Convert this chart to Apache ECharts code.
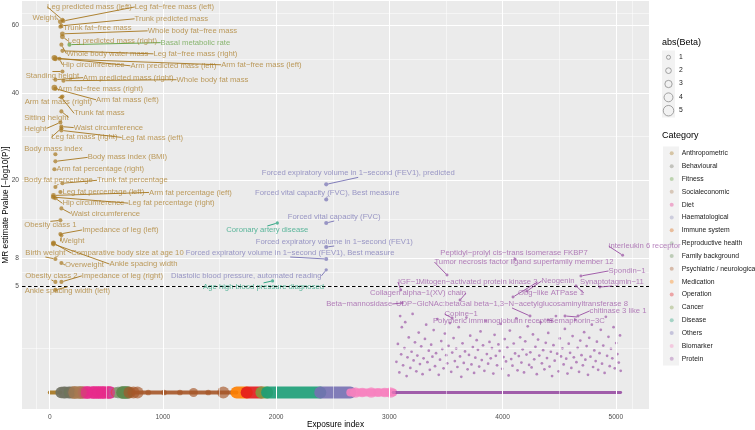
<!DOCTYPE html>
<html><head><meta charset="utf-8">
<script src="https://cdn.jsdelivr.net/npm/echarts@6/dist/echarts.min.js"></script>
<style>html,body{margin:0;padding:0;background:#fff}#c{width:755px;height:430px}</style>
</head><body><div id="c"></div>
<script>
// ---------------- DATA ----------------
const categories = ['Anthropometric','Behavioural','Fitness','Socialeconomic','Diet','Haematological','Immune system','Reproductive health','Family background','Psychiatric / neurological','Medication','Operation','Cancer','Disease','Others','Biomarker','Protein'];
const categoryColors = ['#A6761D','#6F7060','#5E9E3A','#A87A50','#E7298A','#8C8CB8','#D95F02','#7F9F7F','#5E8A4E','#A65628','#FF7F00','#E41A1C','#7E9A40','#1B9E77','#7570B3','#F781BF','#984EA3'];
const yTicks = [5, 8, 20, 40, 60];
const xTicks = [0, 1000, 2000, 3000, 4000, 5000];
const sizeBreaks = [1, 2, 3, 4, 5];

// dense bottom strip (exposures near -log10P = 0), one band per category
const bandStart = [0, 100, 165, 200, 300, 540, 580, 600, 640, 690, 1650, 1740, 1870, 1920, 2390, 2655, 3033];
const bandEnd   = [95, 195, 180, 295, 540, 580, 600, 640, 690, 1650, 1740, 1870, 1920, 2390, 2655, 3033, 5043];
const bandBeta  = [0.8, 5.5, 4, 6, 6, 4.5, 4.5, 5.5, 6, 0.8, 6, 6, 6, 6, 6, 3.5, 0.2];

// larger individual points along the strip
const dotCat  = [1,1,3,3,4,4,4,4,4,8,8,9,9,9,9,9,9,9,9,9,15,15,15,15,15,15];
const dotIdx  = [130,175,220,270,330,390,430,470,520,650,680,705,740,775,870,1010,1150,1270,1400,1533,2700,2760,2840,2900,2960,3010];
const dotBeta = [6,6,6.5,6.5,6.5,6.5,6.5,6.5,6.5,6.5,6.5,6,6,6,2,2,2,4,2,6,5,4.5,5,4,4.5,5];

// protein associations scattered just above the strip
const proteinIdx = [3062,3075,3088,3095,3104,3110,3121,3133,3140,3152,3160,3171,3185,3196,3205,3214,3226,3238,3247,3259,3270,3281,3293,3302,3314,3325,3336,3348,3357,3369,3380,3391,3403,3412,3424,3436,3447,3458,3467,3479,3490,3502,3511,3523,3535,3546,3555,3567,3578,3590,3601,3612,3624,3635,3646,3657,3668,3680,3691,3703,3714,3725,3737,3748,3759,3771,3782,3793,3805,3816,3827,3839,3850,3861,3872,3884,3895,3906,3918,3929,3940,3951,3963,3974,3985,3996,4008,4019,4030,4042,4053,4064,4076,4087,4098,4110,4121,4132,4143,4155,4166,4177,4189,4200,4211,4222,4234,4245,4256,4268,4279,4290,4302,4313,4324,4335,4347,4358,4369,4381,4392,4403,4415,4426,4437,4449,4460,4471,4482,4494,4505,4516,4528,4539,4550,4562,4573,4584,4596,4607,4618,4629,4641,4652,4663,4675,4686,4697,4709,4720,4731,4742,4754,4765,4776,4788,4799,4810,4822,4833,4844,4856,4867,4878,4889,4901,4912,4923,4935,4946,4957,4969,4980,4991,5003,5014,5026,5037,5043];
const proteinP = [0.42,1.05,0.18,2.6,0.65,1.9,0.33,0.88,2.2,0.12,0.55,1.35,0.27,0.74,2.75,0.46,1.12,0.2,0.61,1.6,0.36,0.95,0.15,0.52,1.28,2.05,0.41,0.78,0.23,1.02,0.57,1.74,0.31,0.69,2.4,0.14,0.48,1.18,0.84,0.26,1.55,0.62,0.38,0.97,2.15,0.19,0.71,1.32,0.44,0.86,0.29,1.9,0.58,0.11,1.08,0.39,0.75,2.5,0.24,0.63,1.44,0.35,0.92,0.17,0.54,1.22,0.81,0.3,1.66,0.47,0.99,0.21,2.3,0.66,0.37,1.14,0.52,0.88,0.16,1.48,0.6,0.33,1.03,0.77,2.1,0.25,0.56,1.27,0.43,0.9,0.13,1.71,0.5,0.32,1.07,0.68,2.45,0.22,0.59,1.36,0.4,0.83,0.18,1.17,0.64,1.95,0.34,0.72,0.28,1.5,0.49,0.93,0.15,1.25,0.61,2.2,0.38,0.8,0.24,1.1,0.53,1.58,0.3,0.74,0.12,1.0,0.45,2.6,0.67,0.2,1.3,0.58,0.87,0.35,1.8,0.51,0.16,1.06,0.7,0.27,1.42,0.55,2.35,0.41,0.89,0.19,1.2,0.62,0.33,1.62,0.48,0.96,0.14,1.33,0.57,2.05,0.29,0.79,0.44,1.15,0.23,0.69,1.75,0.37,0.98,0.17,2.55,0.6,1.38,0.31,0.85,0.52,1.9,0.26,1.09,0.66,0.4,1.45,0.21];
const proteinBeta = 0.15;

// labelled exposures
const labelNames = ['Leg predicted mass (left)','Leg fat−free mass (left)','Weight','Trunk predicted mass','Trunk fat−free mass','Whole body fat−free mass','Leg predicted mass (right)','Basal metabolic rate','Whole body water mass','Leg fat−free mass (right)','Hip circumference','Arm predicted mass (left)','Arm fat−free mass (left)','Standing height','Arm predicted mass (right)','Whole body fat mass','Arm fat−free mass (right)','Arm fat mass (left)','Arm fat mass (right)','Trunk fat mass','Sitting height','Height','Waist circumference','Leg fat mass (right)','Leg fat mass (left)','Body mass index','Body mass index (BMI)','Arm fat percentage (right)','Body fat percentage','Trunk fat percentage','Leg fat percentage (left)','Arm fat percentage (left)','Hip circumference','Leg fat percentage (right)','Waist circumference','Obesity class 1','Impedance of leg (left)','Weight','Comparative body size at age 10','Birth weight','Ankle spacing width','Overweight','Obesity class 2','Impedance of leg (right)','Ankle spacing width (left)',
'Forced expiratory volume in 1−second (FEV1), predicted','Forced vital capacity (FVC), Best measure','Forced vital capacity (FVC)','Coronary artery disease','Forced expiratory volume in 1−second (FEV1)','Forced expiratory volume in 1−second (FEV1), Best measure','Diastolic blood pressure, automated reading','Age high blood pressure diagnosed',
'Peptidyl−prolyl cis−trans isomerase FKBP7','interleukin 6 receptor','Tumor necrosis factor ligand superfamily member 12','Spondin−1','IGF−1','Mitogen−activated protein kinase 3','Neogenin','Synaptotagmin−11','Obg−like ATPase 1','Collagen alpha−1(XV) chain','Beta−mannosidase','UDP−GlcNAc:betaGal beta−1,3−N−acetylglucosaminyltransferase 8','chitinase 3 like 1','Copine−1','Polymeric immunoglobulin receptor','Semaphorin−3C'];
const labelCat = [0,0,0,0,0,0,0,2,0,0,0,0,0,0,0,0,0,0,0,0,0,0,0,0,0,0,0,0,0,0,0,0,0,0,0,0,0,0,0,0,0,0,0,0,0,
14,14,14,13,14,14,14,13,
16,16,16,16,16,16,16,16,16,16,16,16,16,16,16,16];
const labelIdx = [112,121,94,103,94,112,112,174,103,112,86,41,50,112,50,121,41,50,112,103,103,94,103,103,103,50,50,41,50,112,94,33,50,33,103,94,94,103,33,50,33,103,50,103,50,
2442,2442,2442,2010,2442,2442,2442,1968,
4110,5060,3509,4692,3100,4092,4216,4860,4648,3624,3113,4242,4666,3554,4401,4551];
const labelP = [61.9,61.5,61.2,59.9,59.6,57.3,56.4,53.9,53.9,52.0,49.6,49.9,49.6,45.9,43.6,43.3,41.4,41.1,39.0,38.8,35.2,32.5,31.5,31.1,30.6,25.3,23.8,22.2,18.8,19.5,17.9,17.3,16.8,17.0,15.1,13.2,11.2,11.0,9.95,7.94,9.82,7.47,5.45,5.45,4.69,
19.3,16.6,12.8,12.8,9.43,7.94,6.7,5.55,
7.9,8.4,6.15,6.05,4.68,4.06,4.59,4.96,5.05,3.81,3.57,2.61,2.61,2.47,2.34,2.61];
const labelBeta = [1,1,1.5,1,1,1.5,1.5,1,1,1,1,2,1.5,1,1,1,2,1,1,1,1,1,1,1,1,1,1,1,1,1,1,1.5,1,1.5,1,1,1,1,1.5,1,1.5,1,1,1,1,
1,1,1,0.5,1,1,0.5,0.5,
0.3,0.3,0.3,0.3,0.3,0.3,0.3,0.3,0.3,0.3,0.3,0.3,0.3,0.3,0.3,0.3];

// ---------------- LAYOUT / STYLE ----------------
// label text offsets from their point (pixels), as placed by the repel layout
const labelOffsets = [[27,-13],[111,-14],[-16,-4],[110,-7],[37,1],[130,-3],[50,4],[126,-2],[46,9],[133,3],[34,6],[119,8],[206,6],[-10,4],[73,-2],[149,-1],[46,1],[72,11],[-4,5],[38,16],[-15,6],[-25,6],[47,1],[23,9],[91,7],[-2,-5],[72,-4],[46,0],[3,-7],[70,-3],[43,0],[137,-3],[38,5],[118,6],[44,5],[-10,5],[60,-4],[11,6],[74,10],[-10,-6],[90,20],[23,2],[-4,-6],[61,-6],[12,1],
[32,-11],[1,-7],[8,-6],[-10,7],[8,-5],[-36,-6],[-80,6],[-9,6],
[-1,-6],[22,-9],[77,-13],[46,-5],[8,-8],[-35,-15],[31,-10],[12,-5],[-25,7],[-42,-7],[-43,1],[-18,-12],[40,-5],[9,-4],[-55,1],[12,5]];

const T = v => Math.sqrt(Math.max(v, 0));         // sqrt-transformed y scale
const sz = b => 2.5 + 1.6 * b;                      // abs(Beta) -> point diameter
function rgba(hex, a) { const n = parseInt(hex.slice(1), 16); return 'rgba(' + (n >> 16) + ',' + ((n >> 8) & 255) + ',' + (n & 255) + ',' + a + ')'; }
const FONT = '"Liberation Sans", Arial, sans-serif';

const X_MIN = -245, X_MAX = 5293, Y_MIN = -0.348, Y_MAX = 8.263;
const yMajor = yTicks.map(T);
const yAll = [Y_MIN].concat(yMajor, [Y_MAX]);
const yMinor = []; for (let i = 0; i < yAll.length - 1; i++) yMinor.push((yAll[i] + yAll[i + 1]) / 2);
const xAll = [X_MIN].concat(xTicks, [X_MAX]);
const xMinor = []; for (let i = 0; i < xAll.length - 1; i++) xMinor.push((xAll[i] + xAll[i + 1]) / 2);

const series = [];
// grid lines + threshold line
series.push({
  type: 'line', data: [], silent: true, z: 1,
  markLine: {
    silent: true, symbol: ['none', 'none'], label: { show: false }, animation: false,
    data: [].concat(
      yMinor.map(v => ({ yAxis: v, lineStyle: { color: '#fff', width: 0.5, type: 'solid' } })),
      xMinor.map(v => ({ xAxis: v, lineStyle: { color: '#fff', width: 0.5, type: 'solid' } })),
      yMajor.map(v => ({ yAxis: v, lineStyle: { color: '#fff', width: 1, type: 'solid' } })),
      xTicks.map(v => ({ xAxis: v, lineStyle: { color: '#fff', width: 1, type: 'solid' } }))
    )
  }
});
series.push({
  type: 'line', data: [], silent: true, z: 4,
  markLine: { silent: true, symbol: ['none', 'none'], label: { show: false }, animation: false,
    data: [{ yAxis: T(5), lineStyle: { color: '#000', width: 1.1, type: [3.5, 2.5] } }] }
});
// strip bands
categories.forEach((c, i) => {
  series.push({
    type: 'line', name: 'band' + i, silent: true, z: 2, symbol: 'none', animation: false,
    data: [[bandStart[i], T(0)], [bandEnd[i], T(0)]],
    lineStyle: { width: sz(bandBeta[i]), cap: 'round', color: categoryColors[i], opacity: 0.9 }
  });
});
// category point series
categories.forEach((c, i) => {
  const data = [];
  dotCat.forEach((k, j) => { if (k === i) data.push({ value: [dotIdx[j], T(0)], symbolSize: sz(dotBeta[j]) }); });
  if (i === 16) proteinIdx.forEach((x, j) => data.push({ value: [x, T(proteinP[j])], symbolSize: sz(proteinBeta) }));
  series.push({
    type: 'scatter', name: c, z: 3, animation: false, data: data,
    itemStyle: { color: categoryColors[i], opacity: 0.65, borderWidth: 0 }
  });
});
// labelled points
series.push({
  type: 'scatter', name: 'labelled', z: 5, animation: false,
  data: labelNames.map((n, j) => ({
    name: n, value: [labelIdx[j], T(labelP[j])], symbolSize: sz(labelBeta[j]),
    itemStyle: { color: categoryColors[labelCat[j]], opacity: 0.7 },
    label: { color: categoryColors[labelCat[j]] },
    labelLine: { lineStyle: { color: categoryColors[labelCat[j]] } }
  })),
  label: { show: true, position: 'inside', formatter: '{b}', fontSize: 7.7, fontFamily: FONT, align: 'center', verticalAlign: 'middle' },
  labelLine: { show: true, lineStyle: { width: 0.9 } },
  labelLayout: function (p) { const o = labelOffsets[p.dataIndex] || [0, 0]; return { dx: o[0], dy: o[1], hideOverlap: false, moveOverlap: null }; }
});

// legends drawn as graphics (titles, key backgrounds, size keys)
const graphics = [];
graphics.push({ type: 'text', left: 662, top: 38, style: { text: 'abs(Beta)', fontSize: 9, fontFamily: FONT, fill: '#000' } });
graphics.push({ type: 'rect', shape: { x: 662, y: 50.5, width: 13, height: 67 }, style: { fill: '#F2F2F2' } });
sizeBreaks.forEach((b, i) => {
  const cy = 57.3 + i * 13.35;
  graphics.push({ type: 'circle', shape: { cx: 668.5, cy: cy, r: sz(b) / 2 }, style: { fill: 'none', stroke: '#8c8c8c', lineWidth: 0.8 } });
  graphics.push({ type: 'text', left: 679, top: cy - 4, style: { text: String(b), fontSize: 6.8, fontFamily: FONT, fill: '#1a1a1a' } });
});
graphics.push({ type: 'text', left: 662, top: 131, style: { text: 'Category', fontSize: 9, fontFamily: FONT, fill: '#000' } });
graphics.push({ type: 'rect', shape: { x: 663, y: 146.5, width: 16, height: 219 }, style: { fill: '#F2F2F2' } });

const option = {
  animation: false,
  backgroundColor: '#fff',
  grid: { left: 22, right: 106, top: 1, bottom: 21, show: true, backgroundColor: '#EBEBEB', borderWidth: 0, containLabel: false, outerBoundsMode: 'none' },
  xAxis: {
    type: 'value', min: X_MIN, max: X_MAX,
    name: 'Exposure index', nameLocation: 'middle', nameGap: 16, nameMoveOverlap: false,
    nameTextStyle: { fontSize: 8.3, fontFamily: FONT, color: '#000', verticalAlign: 'middle' },
    axisLine: { show: false },
    axisTick: { show: true, length: 3, lineStyle: { color: '#333', width: 0.8 }, customValues: xTicks },
    axisLabel: { fontSize: 6.6, fontFamily: FONT, color: '#4D4D4D', margin: 5, customValues: xTicks, formatter: v => String(v) },
    splitLine: { show: false }
  },
  yAxis: {
    type: 'value', min: Y_MIN, max: Y_MAX,
    name: 'MR estimate Pvalue [−log10(P)]', nameLocation: 'middle', nameGap: 16, nameRotate: 90, nameMoveOverlap: false,
    nameTextStyle: { fontSize: 8.3, fontFamily: FONT, color: '#000', verticalAlign: 'middle' },
    axisLine: { show: false },
    axisTick: { show: true, length: 3, lineStyle: { color: '#333', width: 0.8 }, customValues: yMajor },
    axisLabel: { fontSize: 6.6, fontFamily: FONT, color: '#4D4D4D', margin: 3, customValues: yMajor,
      formatter: v => String(Math.round(v * v)) },
    splitLine: { show: false }
  },
  legend: {
    data: categories.map((c, i) => ({ name: c, icon: 'circle', itemStyle: { color: rgba(categoryColors[i], 0.55) } })),
    orient: 'vertical', left: 669.7, top: 148.3, itemWidth: 4, itemHeight: 4, itemGap: 2.84,
    selectedMode: false, padding: 0,
    textStyle: { fontSize: 6.8, fontFamily: FONT, color: '#1a1a1a', lineHeight: 10, padding: [0, 0, 0, 3] }
  },
  graphic: graphics,
  series: series
};
const chart = echarts.init(document.getElementById('c'), null, { renderer: 'canvas' });
chart.setOption(option);
</script></body></html>
